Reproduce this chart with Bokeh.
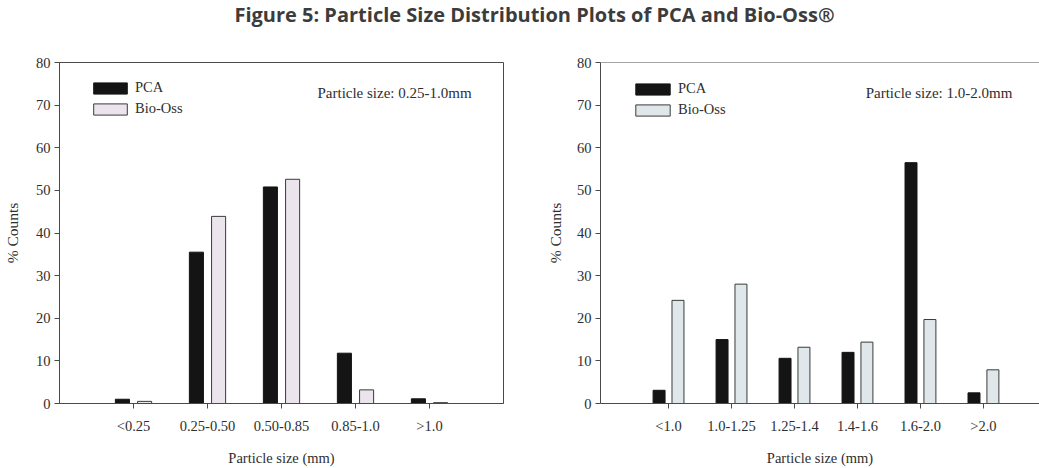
from bokeh.plotting import figure
from bokeh.models import (Range1d, FixedTicker, Legend, LegendItem, Label, Span, Div)
from bokeh.layouts import column, row
from bokeh.embed import file_html
from bokeh.resources import INLINE
import numpy as np

# ---- data ----
cats_small = ["<0.25", "0.25-0.50", "0.50-0.85", "0.85-1.0", ">1.0"]
pca_small = [1.0, 35.5, 50.8, 11.8, 1.1]
bio_small = [0.5, 43.9, 52.6, 3.2, 0.2]

cats_large = ["<1.0", "1.0-1.25", "1.25-1.4", "1.4-1.6", "1.6-2.0", ">2.0"]
pca_large = [3.1, 15.0, 10.6, 12.0, 56.5, 2.5]
bio_large = [24.2, 28.0, 13.2, 14.4, 19.7, 7.9]

y_ticks = [0, 10, 20, 30, 40, 50, 60, 70, 80]

SERIF = "Liberation Serif"
AX_COL = "#4a4a4a"
TXT_COL = "#2e2e2e"


def make_panel(cats, pca, bio, bio_color, note, width, border_left, border_right,
               xr, label_standoff, legend_loc, glyph_w, note_x, outline):
    p = figure(width=width, height=420, output_backend="svg", toolbar_location=None,
               x_range=Range1d(*xr), y_range=Range1d(0, 80),
               min_border_left=border_left, min_border_right=border_right,
               min_border_top=14, min_border_bottom=64)
    p.grid.visible = False
    p.background_fill_color = "white"
    p.border_fill_color = "white"
    if outline:
        p.outline_line_color = AX_COL
        p.outline_line_width = 1
    else:
        p.outline_line_color = None
        p.add_layout(Span(location=80, dimension="width", line_color=AX_COL, line_width=1))

    pos = np.arange(1, len(cats) + 1)
    r1 = p.vbar(x=pos - 0.15, top=pca, width=0.19, fill_color="#141414",
                line_color="#141414", line_width=1)
    r2 = p.vbar(x=pos + 0.15, top=bio, width=0.19, fill_color=bio_color,
                line_color="#3a3a3a", line_width=1)

    # x axis
    xa = p.xaxis[0]
    xa.ticker = FixedTicker(ticks=list(pos))
    xa.major_label_overrides = {int(i): c for i, c in zip(pos, cats)}
    xa.axis_label = "Particle size (mm)"
    # y axis
    ya = p.yaxis[0]
    ya.ticker = FixedTicker(ticks=y_ticks)
    ya.axis_label = "% Counts"
    for ax in (xa, ya):
        ax.axis_line_color = AX_COL
        ax.major_tick_line_color = AX_COL
        ax.minor_tick_line_color = None
        ax.major_tick_in = 0
        ax.major_tick_out = 5
        ax.major_label_text_font = SERIF
        ax.major_label_text_font_size = "14.5px"
        ax.major_label_text_color = TXT_COL
        ax.axis_label_text_font = SERIF
        ax.axis_label_text_font_style = "normal"
        ax.axis_label_text_color = TXT_COL
        ax.major_label_standoff = 4
    xa.axis_label_text_font_size = "14.5px"
    ya.axis_label_text_font_size = "15.5px"
    xa.major_label_standoff = 9
    xa.axis_label_standoff = 13
    ya.axis_label_standoff = label_standoff

    legend = Legend(items=[LegendItem(label="PCA", renderers=[r1]),
                           LegendItem(label="Bio-Oss", renderers=[r2])],
                    location=legend_loc, margin=0, padding=0, spacing=4,
                    glyph_width=glyph_w, glyph_height=14, label_height=16,
                    label_standoff=4, border_line_color=None,
                    background_fill_alpha=0,
                    label_text_font=SERIF, label_text_font_size="14.5px",
                    label_text_color=TXT_COL)
    p.add_layout(legend)

    p.add_layout(Label(x=note_x, y=72.9, text=note, text_font=SERIF,
                       text_font_size="15px", text_color=TXT_COL,
                       text_baseline="middle", text_align="left"))
    return p


p1 = make_panel(cats_small, pca_small, bio_small, "#ebe4ec",
                "Particle size: 0.25-1.0mm", 520, 59, 17, (0, 6), 12,
                (30, 286), 42, 3.486, True)
p2 = make_panel(cats_large, pca_large, bio_large, "#dfe7ea",
                "Particle size: 1.0-2.0mm", 519, 80, 0, (-0.08, 6.89), 10,
                (31, 285), 43, 4.13, False)

title = Div(text='<div style="width:1039px;box-sizing:border-box;padding-left:30px;'
                 'padding-top:5px;text-align:center;'
                 'font-family:\'Open Sans\';font-weight:700;font-size:20px;'
                 'line-height:20px;color:#3c3c3c;">'
                 'Figure 5: Particle Size Distribution Plots of PCA and Bio-Oss&reg;</div>',
            width=1039, height=48, margin=0)

layout = column(title, row(p1, p2), spacing=0)
open("out.html", "w").write(file_html(layout, INLINE))
